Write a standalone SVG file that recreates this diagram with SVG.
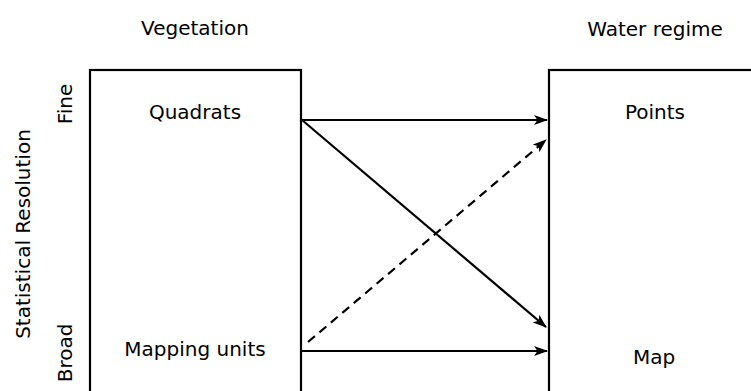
<svg xmlns="http://www.w3.org/2000/svg" width="751" height="391" viewBox="0 0 751 391">
<style>
text{font-family:"DejaVu Sans","Liberation Sans",sans-serif;font-size:20px;fill:#000}
.c{text-anchor:middle}
.box{fill:#fff;stroke:#000;stroke-width:2.2}
.ln{stroke:#000;stroke-width:2.2;fill:none}
.dash{stroke-dasharray:9,6}
</style>
<defs>
<marker id="ah" viewBox="0 0 14 10" refX="13" refY="5" markerWidth="14" markerHeight="10" markerUnits="userSpaceOnUse" orient="auto">
<path d="M0,0 L14,5 L0,10 L3.5,5 Z" fill="#000"/>
</marker>
</defs>
<g id="axis">
<text class="c" transform="translate(30,234) rotate(-90)">Statistical Resolution</text>
<text class="c" transform="translate(72,104) rotate(-90)">Fine</text>
<text class="c" transform="translate(72,353) rotate(-90)">Broad</text>
</g>
<g id="vegetation">
<text class="c" x="195" y="35">Vegetation</text>
<rect class="box" x="90" y="70" width="211" height="340"/>
<text class="c" x="195" y="119">Quadrats</text>
<text class="c" x="195" y="356">Mapping units</text>
</g>
<g id="water">
<text class="c" x="655" y="36">Water regime</text>
<rect class="box" x="549" y="70" width="212" height="340"/>
<text class="c" x="655" y="119">Points</text>
<text class="c" x="654" y="364">Map</text>
</g>
<g id="connectors">
<line class="ln" x1="302" y1="120" x2="547" y2="120" marker-end="url(#ah)"/>
<line class="ln" x1="302" y1="120" x2="546" y2="327" marker-end="url(#ah)"/>
<line class="ln dash" x1="308" y1="342" x2="546" y2="140" marker-end="url(#ah)"/>
<line class="ln" x1="302" y1="351" x2="547" y2="351" marker-end="url(#ah)"/>
</g>
</svg>
